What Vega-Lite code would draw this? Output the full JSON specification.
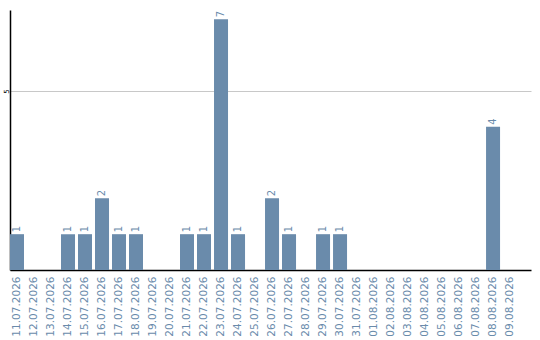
{
  "$schema": "https://vega.github.io/schema/vega-lite/v6.json",
  "width": 521,
  "height": 260,
  "autosize": {"type": "none"},
  "padding": {"left": 10, "top": 10, "right": 9, "bottom": 70},
  "background": "white",
  "config": {
    "view": {"stroke": null},
    "font": "DejaVu Sans"
  },
  "data": {
    "values": [
      {"date": "11.07.2026", "count": 1},
      {"date": "12.07.2026", "count": 0},
      {"date": "13.07.2026", "count": 0},
      {"date": "14.07.2026", "count": 1},
      {"date": "15.07.2026", "count": 1},
      {"date": "16.07.2026", "count": 2},
      {"date": "17.07.2026", "count": 1},
      {"date": "18.07.2026", "count": 1},
      {"date": "19.07.2026", "count": 0},
      {"date": "20.07.2026", "count": 0},
      {"date": "21.07.2026", "count": 1},
      {"date": "22.07.2026", "count": 1},
      {"date": "23.07.2026", "count": 7},
      {"date": "24.07.2026", "count": 1},
      {"date": "25.07.2026", "count": 0},
      {"date": "26.07.2026", "count": 2},
      {"date": "27.07.2026", "count": 1},
      {"date": "28.07.2026", "count": 0},
      {"date": "29.07.2026", "count": 1},
      {"date": "30.07.2026", "count": 1},
      {"date": "31.07.2026", "count": 0},
      {"date": "01.08.2026", "count": 0},
      {"date": "02.08.2026", "count": 0},
      {"date": "03.08.2026", "count": 0},
      {"date": "04.08.2026", "count": 0},
      {"date": "05.08.2026", "count": 0},
      {"date": "06.08.2026", "count": 0},
      {"date": "07.08.2026", "count": 0},
      {"date": "08.08.2026", "count": 4},
      {"date": "09.08.2026", "count": 0}
    ]
  },
  "encoding": {
    "x": {
      "field": "date",
      "type": "ordinal",
      "sort": null,
      "scale": {"paddingInner": 0.176, "paddingOuter": 0.41, "align": 0},
      "axis": {
        "title": null,
        "labelAngle": -90,
        "labelColor": "#6a8bab",
        "labelFontSize": 10.5,
        "labelPadding": 6,
        "ticks": false,
        "domainColor": "#000000",
        "domainWidth": 1.5,
        "grid": false
      }
    },
    "y": {
      "field": "count",
      "type": "quantitative",
      "scale": {"domain": [0, 7.26], "nice": false},
      "axis": {
        "title": null,
        "values": [5],
        "labelAngle": -90,
        "labelFontSize": 7,
        "labelColor": "#000000",
        "labelPadding": 1,
        "ticks": false,
        "domainColor": "#000000",
        "domainWidth": 1.5,
        "grid": true,
        "gridColor": "#c8c8c8"
      }
    }
  },
  "layer": [
    {
      "mark": {"type": "bar", "color": "#6a8bab"}
    },
    {
      "transform": [{"filter": "datum.count > 0"}],
      "mark": {
        "type": "text",
        "angle": -90,
        "align": "left",
        "baseline": "middle",
        "dx": 2,
        "fontSize": 10,
        "color": "#6a8bab"
      },
      "encoding": {
        "text": {"field": "count", "type": "quantitative"}
      }
    }
  ]
}
